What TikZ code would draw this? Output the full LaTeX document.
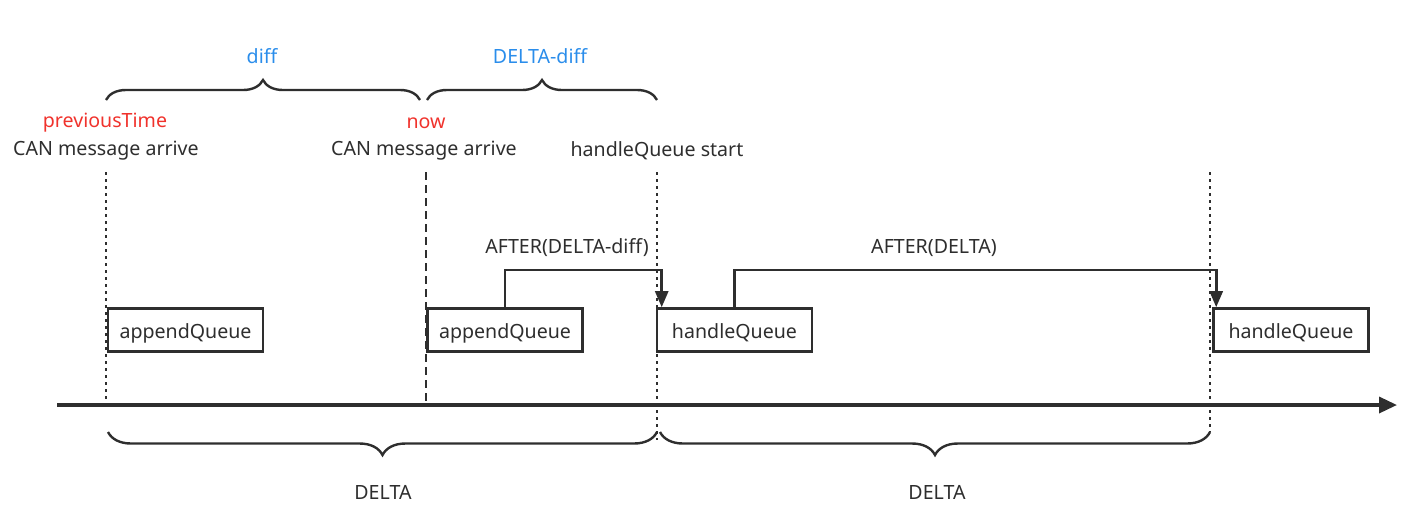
\documentclass[tikz,border=0pt]{standalone}
\usepackage{fontspec}
\setmainfont{Noto Sans}
\usetikzlibrary{arrows.meta,decorations.pathreplacing}
\definecolor{ink}{HTML}{2E2E2E}
\definecolor{redt}{HTML}{F0322C}
\definecolor{bluet}{HTML}{2A8DEB}
\begin{document}
\begin{tikzpicture}[x=0.5pt,y=-0.5pt,
  font=\fontsize{9.8}{11}\selectfont, text=ink,
  box/.style={draw=ink, line width=1.3pt, minimum width=77.5pt, minimum height=21.5pt, inner sep=0pt, fill=white, text height=8.5pt, text depth=0.5pt},
  lbl/.style={inner sep=1pt},
  redlbl/.style={lbl, text=redt},
  bluelbl/.style={lbl, text=bluet},
  axis/.style={draw=ink, line width=1.7pt, -{Triangle[length=9pt,width=8pt]}},
  dotline/.style={draw=ink, line width=1.2pt, dash pattern=on 1.5pt off 2pt},
  dashline/.style={draw=ink, line width=1.2pt, dash pattern=on 4pt off 2.5pt},
  conn/.style={draw=ink, line width=1.3pt, -{Triangle[length=8pt,width=6.5pt]}},
  bracestyle/.style={draw=ink, line width=1.2pt, decorate},
]
\useasboundingbox (0,0) rectangle (1401,515);

% time axis
\coordinate (t0) at (57,405);
\coordinate (t1) at (1397,405);
\draw[axis] (t0) -- (t1);

% vertical markers
\coordinate (v1a) at (106,172); \coordinate (v1b) at (106,405);
\coordinate (v2a) at (426,172); \coordinate (v2b) at (426,405);
\coordinate (v3a) at (657,172); \coordinate (v3b) at (657,440);
\coordinate (v4a) at (1210,172); \coordinate (v4b) at (1210,432);
\draw[dotline] (v1a) -- (v1b);
\draw[dashline] (v2a) -- (v2b);
\draw[dotline] (v3a) -- (v3b);
\draw[dotline] (v4a) -- (v4b);

% boxes
\node[box] (aq1) at (185.5,330) {appendQueue};
\node[box] (aq2) at (505,330) {appendQueue};
\node[box] (hq1) at (734.5,330) {handleQueue};
\node[box] (hq2) at (1291,330) {handleQueue};

% labels
\node[redlbl] (prev) at (105,123) {previousTime};
\node[lbl] (can1) at (106,151) {CAN message arrive};
\node[redlbl] (now) at (426,123) {now};
\node[lbl] (can2) at (424,151) {CAN message arrive};
\node[lbl] (hqs) at (657,151) {handleQueue start};
\node[bluelbl] (diff) at (262,56) {diff};
\node[bluelbl] (dd) at (540,56) {DELTA-diff};
\node[lbl] (d1) at (383,492) {DELTA};
\node[lbl] (d2) at (937,492) {DELTA};
\node[lbl] (a1) at (567,248) {AFTER(DELTA-diff)};
\node[lbl] (a2) at (934,248) {AFTER(DELTA)};

% connectors
\draw[conn] (aq2.north) -- (aq2.north |- 0,270) -| ([xshift=3pt]hq1.north west);
\draw[conn] (hq1.north) -- (hq1.north |- 0,270) -| ([xshift=2pt]hq2.north west);

% braces
\coordinate (b1a) at (106,100); \coordinate (b1b) at (420,100);
\coordinate (b2a) at (427,100); \coordinate (b2b) at (657,100);
\coordinate (b3a) at (108,432); \coordinate (b3b) at (657,432);
\coordinate (b4a) at (660,432); \coordinate (b4b) at (1210,432);
\draw[bracestyle, decoration={brace, amplitude=10pt}] (b1a) -- (b1b);
\draw[bracestyle, decoration={brace, amplitude=10pt}] (b2a) -- (b2b);
\draw[bracestyle, decoration={brace, amplitude=11.5pt, mirror}] (b3a) -- (b3b);
\draw[bracestyle, decoration={brace, amplitude=11.5pt, mirror}] (b4a) -- (b4b);
\end{tikzpicture}
\end{document}
